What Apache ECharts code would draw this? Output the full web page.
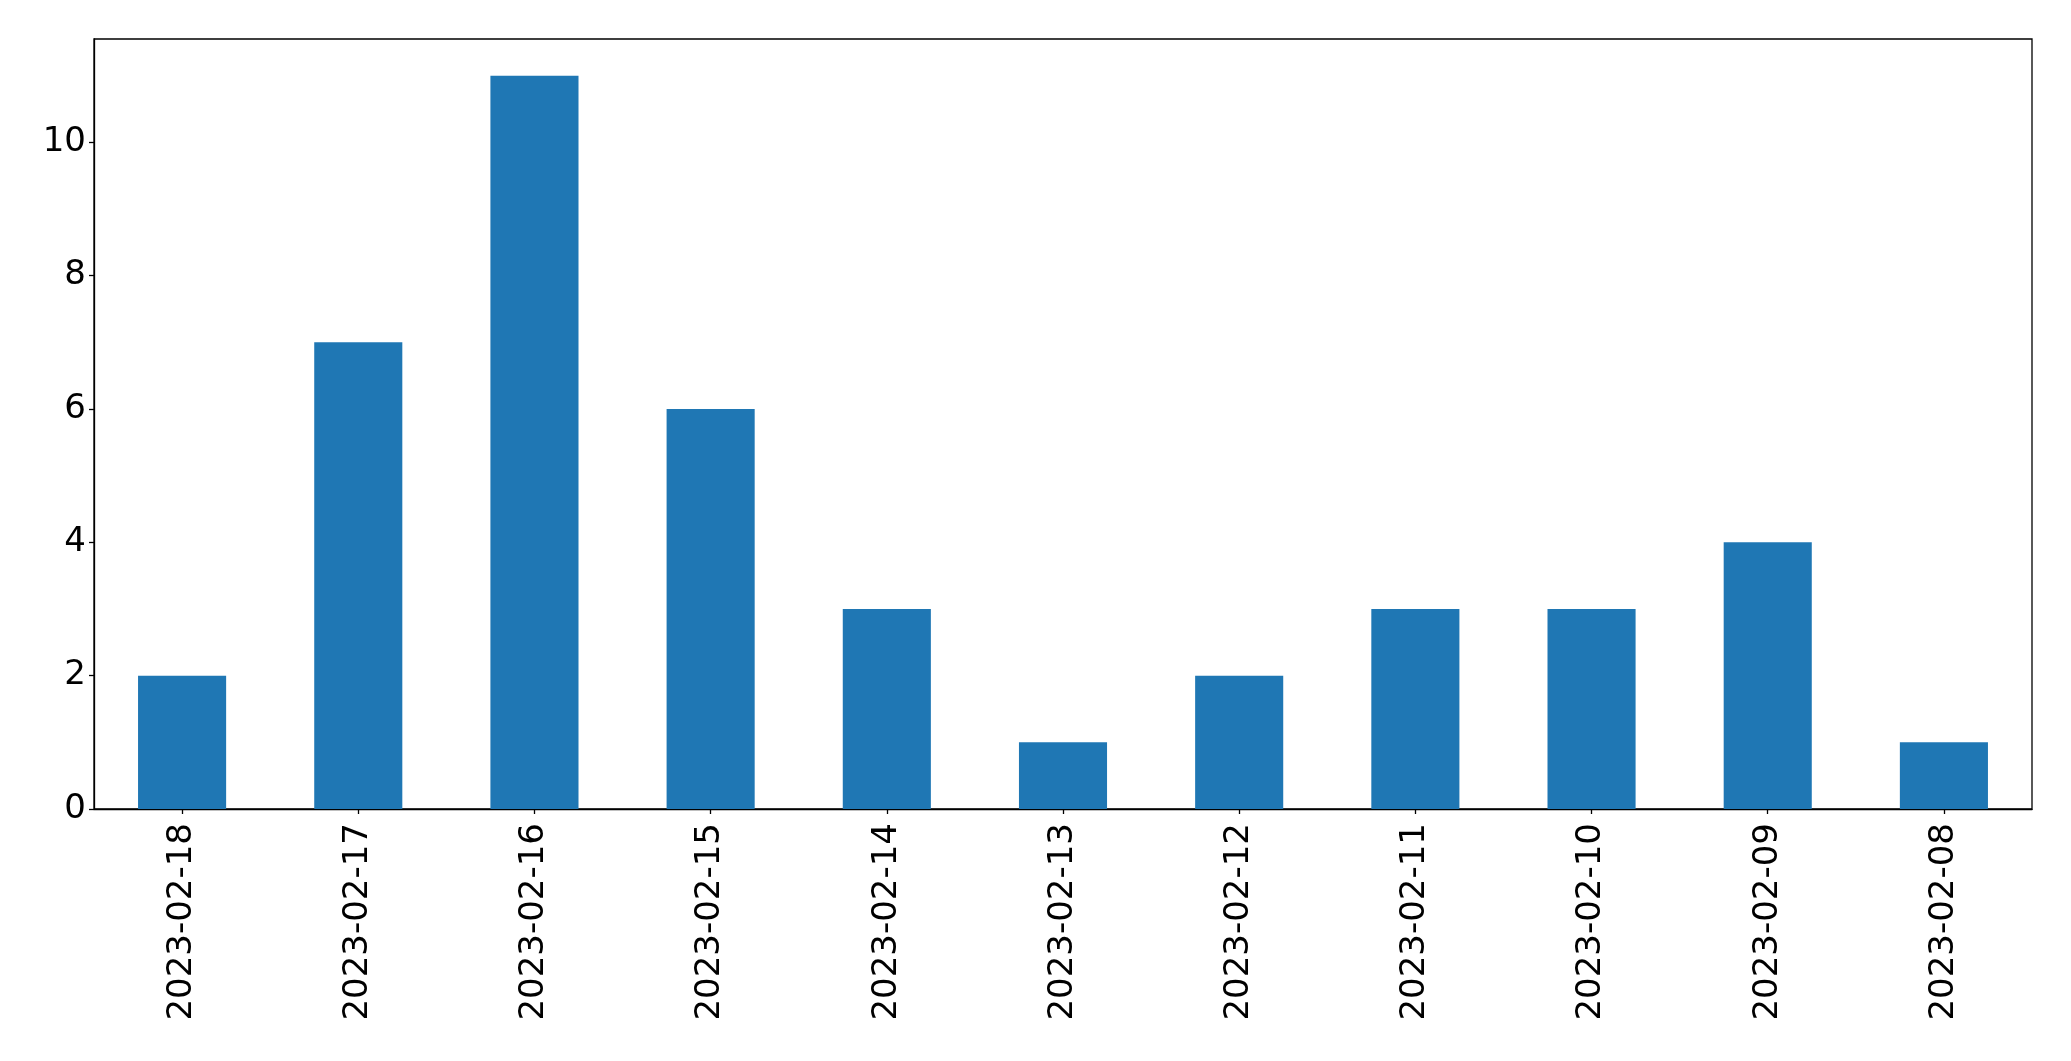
<!DOCTYPE html>
<html>
<head>
<meta charset="utf-8">
<script src="https://cdn.jsdelivr.net/npm/echarts@6/dist/echarts.min.js"></script>
<style>html,body{margin:0;padding:0;background:#fff}#c{width:2071px;height:1061px}</style>
</head>
<body>
<div id="c"></div>
<script>
const categories = ['2023-02-18','2023-02-17','2023-02-16','2023-02-15','2023-02-14','2023-02-13','2023-02-12','2023-02-11','2023-02-10','2023-02-09','2023-02-08'];
const counts = [2, 7, 11, 6, 3, 1, 2, 3, 3, 4, 1];
const yTicks = [0, 2, 4, 6, 8, 10];
const yMax = 11.55;

const chart = echarts.init(document.getElementById('c'), null, {renderer: 'canvas'});
const font = 'DejaVu Sans';
chart.setOption({
  animation: false,
  backgroundColor: '#ffffff',
  grid: {left: 94, top: 39, right: 39, bottom: 252, show: true, borderColor: '#000', borderWidth: 1.3, backgroundColor: 'transparent'},
  xAxis: {
    type: 'category',
    data: categories,
    boundaryGap: true,
    axisLine: {show: true, lineStyle: {color: '#000', width: 1.3}},
    axisTick: {show: true, alignWithLabel: true, length: 5, lineStyle: {color: '#000', width: 1.3}},
    axisLabel: {rotate: 90, margin: 14, color: '#000', fontSize: 34, fontFamily: font}
  },
  yAxis: {
    type: 'value',
    min: 0,
    max: yMax,
    splitLine: {show: false},
    axisLine: {show: true, lineStyle: {color: '#000', width: 1.3}},
    axisTick: {show: true, length: 5, customValues: yTicks, lineStyle: {color: '#000', width: 1.3}},
    axisLabel: {customValues: yTicks, margin: 8, padding: [6, 0, 0, 0], color: '#000', fontSize: 34, fontFamily: font}
  },
  series: [{
    type: 'bar',
    data: counts,
    barWidth: '50%',
    itemStyle: {color: '#1f77b4'}
  }]
});
</script>
</body>
</html>
